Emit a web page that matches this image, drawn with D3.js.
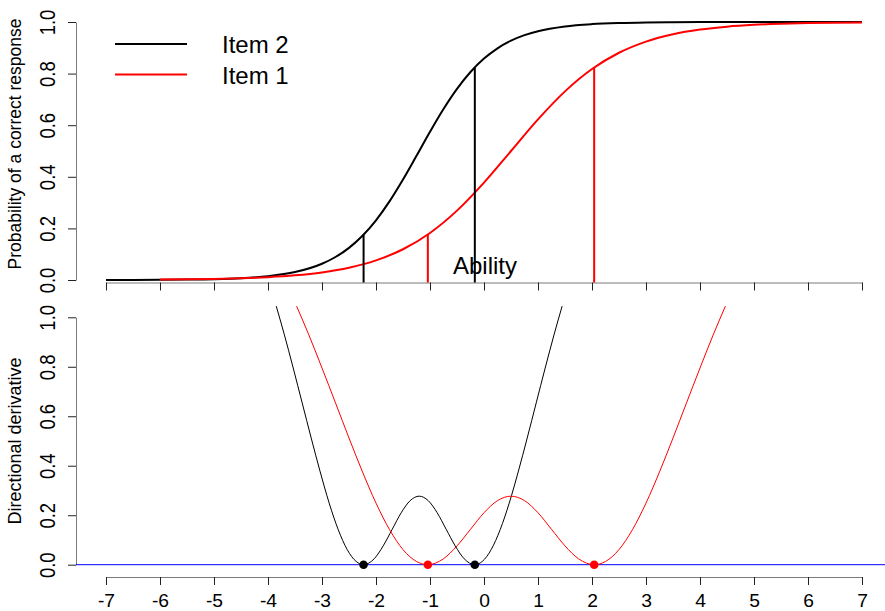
<!DOCTYPE html>
<html><head><meta charset="utf-8">
<script src="https://cdn.jsdelivr.net/npm/d3@7"></script>
<style>html,body{margin:0;padding:0;background:#fff;} svg{display:block;font-family:"Liberation Sans",Arial,sans-serif;}</style>
</head><body>
<svg id="chart" width="885" height="611"></svg>
<script>
// ---- data ----
const xTicks = [-7,-6,-5,-4,-3,-2,-1,0,1,2,3,4,5,6,7];
const yTicks = [0,0.2,0.4,0.6,0.8,1.0];

const thetaTopItem2 = [-7,-6.5,-6,-5.5,-5,-4.5,-4,-3.5,-3,-2.75,-2.5,-2.25,-2,-1.75,-1.5,-1.25,-1,-0.75,-0.5,-0.25,0,0.25,0.5,0.75,1,1.5,2,2.5,3,3.5,4,4.5,5,5.5,6,6.5,7];
const probItem2 = [0.0002,0.0004,0.0008,0.0016,0.0033,0.0070,0.0148,0.0307,0.0630,0.0891,0.1246,0.1715,0.2315,0.3047,0.3894,0.4813,0.5744,0.6626,0.7408,0.8061,0.8581,0.8980,0.9276,0.9491,0.9644,0.9829,0.9918,0.9961,0.9982,0.9991,0.9996,0.9998,0.9999,1,1,1,1];

const thetaTopItem1 = [-6,-5.5,-5,-4.5,-4,-3.5,-3,-2.5,-2,-1.5,-1,-0.5,0,0.5,1,1.5,2,2.5,3,3.5,4,4.5,5,5.5,6,6.5,7];
const probItem1 = [0.0015,0.0025,0.0041,0.0067,0.0110,0.0180,0.0293,0.0474,0.0759,0.1192,0.1824,0.2689,0.3775,0.5,0.6225,0.7311,0.8176,0.8808,0.9241,0.9526,0.9707,0.9820,0.9890,0.9933,0.9959,0.9975,0.9985];

const markThetaItem2 = [-2.23,-0.17];
const markProbItem2 = [0.176,0.824];
const markThetaItem1 = [-1.04,2.04];
const markProbItem1 = [0.176,0.824];

const thetaDerivItem2 = [-3.847,-3.7,-3.533,-3.367,-3.2,-3.033,-2.867,-2.7,-2.533,-2.367,-2.23,-2.033,-1.867,-1.7,-1.533,-1.367,-1.2,-1.033,-0.867,-0.7,-0.533,-0.367,-0.17,-0.033,0.133,0.3,0.467,0.633,0.8,0.967,1.133,1.3,1.447];
const derivItem2 = [1.045,0.932,0.795,0.654,0.512,0.375,0.249,0.142,0.061,0.013,0,0.024,0.076,0.143,0.210,0.259,0.277,0.259,0.210,0.143,0.076,0.024,0,0.013,0.061,0.142,0.249,0.375,0.512,0.654,0.795,0.932,1.045];

const thetaDerivItem1 = [-3.47,-3.25,-3,-2.75,-2.5,-2.25,-2,-1.75,-1.5,-1.25,-1.04,-0.75,-0.5,-0.25,0,0.25,0.5,0.75,1,1.25,1.5,1.75,2.04,2.25,2.5,2.75,3,3.25,3.5,3.75,4,4.25,4.47];
const derivItem1 = [1.045,0.932,0.795,0.654,0.512,0.375,0.249,0.142,0.061,0.013,0,0.024,0.076,0.143,0.210,0.259,0.277,0.259,0.210,0.143,0.076,0.024,0,0.013,0.061,0.142,0.249,0.375,0.512,0.654,0.795,0.932,1.045];

const legendLabels = ["Item 2","Item 1"];
const legendColors = ["#000000","#ff0000"];

// ---- drawing ----
const svg = d3.select("#chart");
const x = d3.scaleLinear().domain([-7,7]).range([106,862]);
const yTop = d3.scaleLinear().domain([0,1]).range([280,22]);
const yBot = d3.scaleLinear().domain([0,1]).range([564.7,317.3]);
const axisColor = "#7a7a7a", tickColor = "#222";

function styleAxis(g){
  g.select(".domain").attr("stroke",axisColor).attr("stroke-width",1);
  g.selectAll(".tick line").attr("stroke",tickColor).attr("stroke-width",1);
  g.selectAll(".tick text").attr("fill","#000").attr("font-size",18).attr("font-family",null);
}

// top x axis (ticks only)
const gxTop = svg.append("g").attr("transform","translate(0,282.5)")
  .call(d3.axisBottom(x).tickValues(xTicks).tickSize(8).tickSizeOuter(0).tickFormat(""));
styleAxis(gxTop);

// bottom x axis
const gxBot = svg.append("g").attr("transform","translate(0,577)")
  .call(d3.axisBottom(x).tickValues(xTicks).tickSize(8).tickSizeOuter(0).tickFormat(d=>String(d)));
styleAxis(gxBot);
gxBot.selectAll(".tick text").attr("y",null).attr("dy",null)
  .attr("transform","translate(0,29.7) scale(1.07,1)");

// left axes
function leftAxis(scale){
  const g = svg.append("g").attr("transform","translate(76,0)")
    .call(d3.axisLeft(scale).tickValues(yTicks).tickSize(8).tickSizeOuter(0).tickFormat(d3.format(".1f")));
  styleAxis(g);
  g.selectAll(".tick text").attr("x",null).attr("dy",null).attr("text-anchor","middle")
    .attr("transform","translate(-21,0) scale(1.15,1) rotate(-90)").attr("font-size",18.5);
  return g;
}
leftAxis(yTop);
leftAxis(yBot);

// axis titles
svg.append("text").attr("transform","translate(21,144) rotate(-90)").attr("text-anchor","middle")
  .attr("font-size",17.5).text("Probability of a correct response");
svg.append("text").attr("transform","translate(21,441) rotate(-90)").attr("text-anchor","middle")
  .attr("font-size",18).text("Directional derivative");
svg.append("text").attr("x",485).attr("y",274).attr("text-anchor","middle").attr("font-size",24).text("Ability");

// top curves
const lineTop = d3.line().x(d=>x(d[0])).y(d=>yTop(d[1])).curve(d3.curveMonotoneX);
svg.append("path").datum(d3.zip(thetaTopItem2,probItem2)).attr("d",lineTop)
  .attr("fill","none").attr("stroke","#000").attr("stroke-width",2);
svg.append("path").datum(d3.zip(thetaTopItem1,probItem1)).attr("d",lineTop)
  .attr("fill","none").attr("stroke","#ff0000").attr("stroke-width",2);

// vertical reference lines
function marks(th, pr, color){
  svg.append("g").selectAll("line").data(d3.zip(th,pr)).join("line")
    .attr("x1",d=>x(d[0])).attr("x2",d=>x(d[0]))
    .attr("y1",d=>yTop(d[1])).attr("y2",282.5)
    .attr("stroke",color).attr("stroke-width",2);
}
marks(markThetaItem2, markProbItem2, "#000");
marks(markThetaItem1, markProbItem1, "#ff0000");

// legend
const leg = svg.append("g");
legendLabels.forEach((lab,i)=>{
  const yy = 44 + i*30.5;
  leg.append("line").attr("x1",115).attr("x2",187).attr("y1",yy).attr("y2",yy)
    .attr("stroke",legendColors[i]).attr("stroke-width",2);
  leg.append("text").attr("x",222).attr("y",yy+9).attr("font-size",24).text(lab);
});

// bottom panel
svg.append("line").attr("x1",76).attr("x2",885).attr("y1",yBot(0)).attr("y2",yBot(0))
  .attr("stroke","#0000ff").attr("stroke-width",1);
const lineBot = d3.line().x(d=>x(d[0])).y(d=>yBot(d[1])).curve(d3.curveMonotoneX);
svg.append("path").datum(d3.zip(thetaDerivItem2,derivItem2)).attr("d",lineBot)
  .attr("fill","none").attr("stroke","#000").attr("stroke-width",1);
svg.append("path").datum(d3.zip(thetaDerivItem1,derivItem1)).attr("d",lineBot)
  .attr("fill","none").attr("stroke","#ff0000").attr("stroke-width",1);

// optimal points
svg.append("g").selectAll("circle").data(markThetaItem2).join("circle")
  .attr("cx",d=>x(d)).attr("cy",yBot(0)).attr("r",4.3).attr("fill","#000");
svg.append("g").selectAll("circle").data(markThetaItem1).join("circle")
  .attr("cx",d=>x(d)).attr("cy",yBot(0)).attr("r",4.3).attr("fill","#ff0000");
</script>
</body></html>
